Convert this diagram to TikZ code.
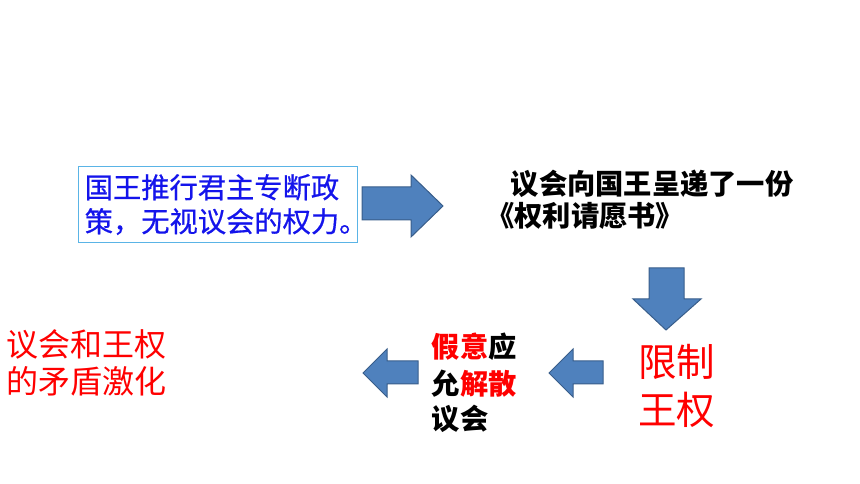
\documentclass[tikz,border=0pt]{standalone}
\usepackage{fontspec}
\setmainfont{Noto Sans CJK SC}
\newfontfamily\bluefont[FakeBold=0.6]{Noto Sans CJK SC}
\definecolor{arrfill}{RGB}{79,129,189}
\definecolor{arrline}{RGB}{56,93,138}
\definecolor{boxline}{RGB}{90,180,230}
\definecolor{txtblue}{RGB}{20,20,235}
\definecolor{txtred}{RGB}{255,0,0}
\begin{document}
\begin{tikzpicture}[x=0.75pt,y=-0.75pt,
  blockarrow/.style={fill=arrfill,draw=arrline,line width=0.75pt,line join=miter},
  txtline/.style={inner sep=0pt,anchor=base west},
  boxtext/.style={txtline,text=txtblue,font=\fontsize{21.2}{25}\bluefont},
  boldtext/.style={txtline,text=black,font=\fontsize{21.2}{25}\selectfont\bfseries},
  bigred/.style={txtline,text=txtred,font=\fontsize{28.9}{34}\selectfont},
  redtext/.style={txtline,text=txtred,font=\fontsize{24}{29}\selectfont}]
\useasboundingbox (0,0) rectangle (860,484);
% box with text
\draw[boxline,line width=0.75pt] (78,167) rectangle (357,243);
\node[boxtext] (b1) at (84.5,198) {国王推行君主专断政};
\node[boxtext] (b2) at (84.5,232) {策，无视议会的权力。};
% arrow right
\draw[blockarrow] (362,187) -- (411,187) -- (411,175) -- (443,206) -- (411,237) -- (411,220) -- (362,220) -- cycle;
% top right text
\node[boldtext] (t1) at (510.5,195) {议会向国王呈递了一份};
\node[boldtext] (t2) at (486,227) {《权利请愿书》};
% arrow down
\draw[blockarrow] (649,268) -- (684,268) -- (684,299) -- (701,299) -- (666,330) -- (633,299) -- (649,299) -- cycle;
% limit royal power
\node[bigred] (r1) at (638,377) {限制};
\node[bigred] (r2) at (638,425) {王权};
% arrow left 2
\draw[blockarrow] (603,361) -- (573,361) -- (573,349) -- (549,373) -- (573,397) -- (573,384) -- (603,384) -- cycle;
% middle text
\node[boldtext] (m1) at (431.5,358) {\textcolor{txtred}{假意}应};
\node[boldtext] (m2) at (431.5,394) {允\textcolor{txtred}{解散}};
\node[boldtext] (m3) at (431.5,429) {议会};
% arrow left 3
\draw[blockarrow] (418,361) -- (387,361) -- (387,349) -- (363,373) -- (387,397) -- (387,384) -- (418,384) -- cycle;
% left red text
\node[redtext] (l1) at (6.5,357) {议会和王权};
\node[redtext] (l2) at (6.5,393) {的矛盾激化};
\end{tikzpicture}
\end{document}
